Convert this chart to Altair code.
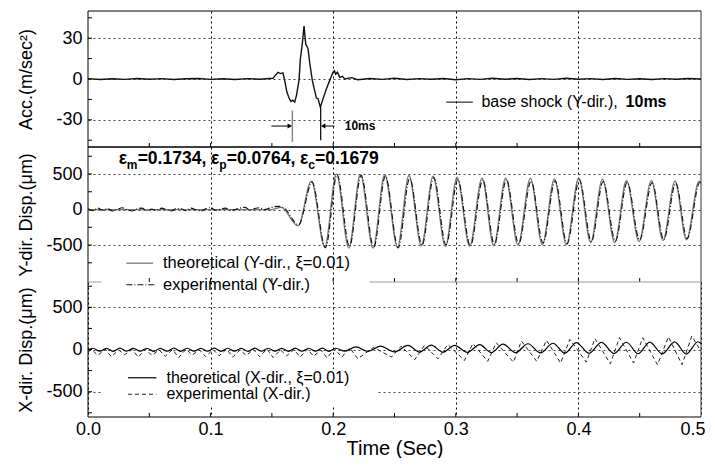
import altair as alt
import pandas as pd

# ---------------- values ----------------
# base shock acceleration (m/sec^2)
acc_t = [0.000, 0.010, 0.020, 0.030, 0.040, 0.050, 0.060, 0.070, 0.080, 0.090, 0.100, 0.110, 0.120, 0.130, 0.140, 0.148,
         0.1509, 0.1531, 0.1550, 0.1570, 0.1590, 0.1604, 0.1623, 0.1640, 0.1655, 0.1670,
         0.1686, 0.1700, 0.1721, 0.1732, 0.1749, 0.1762, 0.1776, 0.1786, 0.1795, 0.1808,
         0.1830, 0.1849, 0.1863, 0.1876, 0.1895, 0.1917, 0.1944, 0.1971, 0.1998, 0.2010,
         0.2020, 0.2035, 0.2053, 0.2075, 0.2094,
         0.2150, 0.2200, 0.2300, 0.2400, 0.2500, 0.2600, 0.2700, 0.2800, 0.2900, 0.3000,
         0.3100, 0.3200, 0.3300, 0.3400, 0.3500, 0.3600, 0.3700, 0.3800, 0.3900, 0.4000,
         0.4100, 0.4200, 0.4300, 0.4400, 0.4500, 0.4600, 0.4700, 0.4800, 0.4900, 0.5000]
acc_v = [0.3, -0.4, 0.2, -0.3, 0.4, -0.2, 0.3, -0.4, 0.2, 0.4, -0.3, 0.2, -0.4, 0.3, -0.2, 0.4,
         0.5, 3.0, 4.9, 4.0, 4.5, -1.0, -9.8, -14.0, -16.5, -15.5,
         -17.0, -12.2, -1.0, 14.6, 26.8, 39.0, 25.6, 24.0, 22.0, 12.2,
         -1.2, -8.5, -14.0, -14.4, -20.7, -14.6, -7.3, -1.2, 4.9, 6.0,
         3.6, 5.0, 1.2, 2.0, 0.0,
         1.0, -0.5, 0.4, -0.3, 0.5, -0.4, 0.3, -0.2, 0.4, -0.5,
         0.3, -0.3, 0.5, -0.2, 0.4, -0.4, 0.3, -0.3, 0.5, -0.2,
         0.3, -0.4, 0.4, -0.3, 0.2, -0.4, 0.3, -0.2, 0.4, 0.0]

# Y-direction displacement (um): theoretical
ythe_t = [0.000, 0.150, 0.1575, 0.1713, 0.1822, 0.1931, 0.2026, 0.2127, 0.2222, 0.2325,
          0.2420, 0.2524, 0.2618, 0.2719, 0.2814, 0.2915, 0.3010, 0.3113, 0.3214, 0.3309,
          0.3407, 0.3507, 0.3608, 0.3706, 0.3804, 0.3902, 0.4002, 0.4100, 0.4196, 0.4296,
          0.4392, 0.4494, 0.4595, 0.4690, 0.4788, 0.4881, 0.4984, 0.5000]
ythe_v = [0, 0, 30, -231, 400, -529, 501, -543, 493, -543,
          493, -529, 479, -510, 469, -520, 455, -520, 446, -510,
          446, -501, 441, -496, 432, -496, 446, -464, 427, -464,
          409, -450, 409, -436, 400, -426, 400, 390]

# Y-direction displacement (um): experimental
yexp_t = [0.000, 0.004, 0.008, 0.012, 0.016, 0.020, 0.024, 0.028, 0.032, 0.036,
          0.040, 0.044, 0.048, 0.052, 0.056, 0.060, 0.064, 0.068, 0.072, 0.076,
          0.080, 0.084, 0.088, 0.092, 0.096, 0.100, 0.104, 0.108, 0.112, 0.116,
          0.120, 0.124, 0.128, 0.132, 0.136, 0.140, 0.144, 0.148, 0.152, 0.156,
          0.160,
          0.1718, 0.1828, 0.1937, 0.2032, 0.2133, 0.2228, 0.2331, 0.2426, 0.2530, 0.2624,
          0.2725, 0.2820, 0.2921, 0.3016, 0.3119, 0.3220, 0.3315, 0.3413, 0.3513, 0.3614,
          0.3712, 0.3810, 0.3908, 0.4008, 0.4106, 0.4202, 0.4302, 0.4398, 0.4500, 0.4601,
          0.4696, 0.4794, 0.4887, 0.4990, 0.5000]
yexp_v = [10, -15, 20, -10, 15, -20, 5, 25, -5, -20,
          10, 20, -15, 5, -10, 20, 0, -20, 15, 10,
          -15, 20, -5, -20, 10, 25, -10, 5, 20, -15,
          0, 20, 30, -5, 15, 25, 0, 20, 40, 45,
          20,
          -215, 385, -540, 490, -520, 480, -530, 470, -540, 440,
          -500, 450, -500, 420, -510, 415, -490, 420, -480, 400,
          -470, 405, -480, 420, -450, 395, -445, 385, -430, 380,
          -420, 370, -410, 380, 370]

# X-direction displacement (um): theoretical
xthe_t = [0.000, 0.004, 0.0095, 0.015, 0.0205, 0.026, 0.0315, 0.037, 0.0425, 0.048,
          0.0535, 0.059, 0.0645, 0.070, 0.0755, 0.081, 0.0865, 0.092, 0.0975, 0.103,
          0.1085, 0.114, 0.1195, 0.125, 0.1305, 0.136, 0.1415, 0.147, 0.1525, 0.158,
          0.1635, 0.169, 0.1745, 0.180, 0.1855, 0.191, 0.1965, 0.202, 0.2095, 0.2185,
          0.2285, 0.2385, 0.2500, 0.2610, 0.2705, 0.2800, 0.2895, 0.2990, 0.3093, 0.3195,
          0.3290, 0.3385, 0.3487, 0.3589, 0.3691, 0.3793, 0.3889, 0.3984, 0.4086, 0.4188,
          0.4290, 0.4392, 0.4487, 0.4582, 0.4684, 0.4785, 0.4880, 0.4976, 0.5000]
xthe_v = [-5, 15, -20, 14, -22, 16, -20, 13, -21, 15,
          -23, 14, -20, 16, -22, 15, -21, 14, -20, 16,
          -22, 15, -20, 14, -23, 16, -21, 15, -20, 14,
          -22, 16, -20, 15, -21, 16, -22, 15, -20, 30,
          -22, 40, -28, 48, -30, 52, -32, 50, -34, 58,
          -36, 64, -38, 68, -40, 74, -44, 82, -46, 84,
          -48, 86, -50, 88, -52, 90, -54, 92, 70]

# X-direction displacement (um): experimental
xexp_t = [0.000, 0.003, 0.008, 0.014, 0.019, 0.025, 0.030, 0.036, 0.041, 0.047,
          0.052, 0.058, 0.063, 0.069, 0.074, 0.080, 0.085, 0.091, 0.096, 0.102,
          0.107, 0.113, 0.118, 0.124, 0.129, 0.135, 0.140, 0.146, 0.151, 0.157,
          0.162, 0.168, 0.173, 0.179, 0.184, 0.190, 0.195, 0.201, 0.207, 0.2135,
          0.220, 0.233, 0.2475, 0.2555, 0.2665, 0.2745, 0.2855, 0.2935, 0.307, 0.314,
          0.326, 0.333, 0.347, 0.3535, 0.366, 0.374, 0.3855, 0.393, 0.4065, 0.4135,
          0.426, 0.4335, 0.445, 0.4525, 0.4645, 0.4735, 0.4845, 0.4925, 0.5000]
xexp_v = [-30, 0, -70, 5, -85, -5, -60, 0, -90, 5,
          -70, -5, -80, 0, -95, 5, -65, -5, -85, 0,
          -75, 5, -90, -5, -70, 0, -85, 5, -95, -5,
          -75, 0, -90, 5, -80, -5, -100, 10, -90, 20,
          -110, 25, -90, 40, -120, 50, -110, 60, -130, 70,
          -140, 80, -150, 100, -140, 110, -160, 120, -150, 130,
          -170, 140, -160, 140, -180, 150, -180, 160, -20]

x_labels = [0.0, 0.1, 0.2, 0.3, 0.4, 0.5]
x_grid = [0.1, 0.2, 0.3, 0.4]
x_minor = [0.05, 0.1, 0.15, 0.2, 0.25, 0.3, 0.35, 0.4, 0.45]
acc_major = [-30, 0, 30]
acc_minor = [-45, -15, 15, 45]
disp_major = [-500, 0, 500]
disp_minor = [-750, -250, 250, 750]

# ---------------- styling / layout ----------------
FONT = "Liberation Sans"
W = 613
H1, H2, H3 = 136, 135, 135
D1, D2, D3 = [-50, 50], [-1020, 880], [-800, 800]
XS = alt.Scale(domain=[0, 0.5], nice=False, zero=False)


def yscale(d):
    return alt.Scale(domain=d, nice=False, zero=False)


def xaxis(bottom):
    if bottom:
        return alt.Axis(values=x_labels, format=".1f", grid=True, gridColor="#000", gridDash=[2, 3],
                        ticks=False, domain=False, labelFont=FONT, labelFontSize=18, labelColor="#000",
                        labelPadding=3, labelFlush=False,
                        labelAlign={"condition": {"test": "datum.value == 0.5", "value": "right"},
                                    "value": "center"},
                        labelOffset={"condition": {"test": "datum.value == 0.5", "value": 4},
                                     "value": 0},
                        title="Time (Sec)", titleFont=FONT,
                        titleFontSize=20, titleFontWeight="normal", titleColor="#000", titlePadding=0)
    return alt.Axis(values=x_grid, grid=True, gridColor="#000", gridDash=[2, 3], ticks=False,
                    domain=False, labels=False, title=None)


def yaxis(major, title):
    return alt.Axis(values=major, grid=True, gridColor="#444", gridDash=[2, 3], ticks=False,
                    domain=False, labelFont=FONT, labelFontSize=18, labelColor="#000", labelPadding=6,
                    labelExpr="datum.value + ''", title=title, titleFont=FONT, titleFontSize=18,
                    titleFontWeight="normal", titleColor="#000", titleX=-62, titleBaseline="middle")


def frame(ys, segs, major, title, bottom):
    df = pd.DataFrame(segs, columns=["x", "x2", "y", "y2", "c"])
    return alt.Chart(df).mark_rule(strokeWidth=1).encode(
        x=alt.X("x:Q", scale=XS, axis=xaxis(bottom)),
        x2="x2:Q",
        y=alt.Y("y:Q", scale=ys, axis=yaxis(major, title)),
        y2="y2:Q",
        color=alt.Color("c:N", scale=None),
    )


def inner_ticks(ys, H, ylist):
    xt = alt.Chart(pd.DataFrame({"t": x_minor})).mark_rule(color="#000").encode(
        x=alt.X("t:Q", scale=XS), y=alt.value(H), y2=alt.value(H - 4))
    yt = alt.Chart(pd.DataFrame({"v": ylist})).mark_rule(color="#000").encode(
        y=alt.Y("v:Q", scale=ys), x=alt.value(0), x2=alt.value(4))
    return [xt, yt]


def line(t, v, ys, color, dash=None, width=1.2, interp="linear"):
    kw = dict(color=color, strokeWidth=width, interpolate=interp)
    if dash:
        kw["strokeDash"] = dash
    return alt.Chart(pd.DataFrame({"t": t, "v": v})).mark_line(**kw).encode(
        x=alt.X("t:Q", scale=XS), y=alt.Y("v:Q", scale=ys))


def seg(t1, t2, v1, v2, ys, color="#000", dash=None, width=1.0):
    kw = dict(color=color, strokeWidth=width)
    if dash:
        kw["strokeDash"] = dash
    df = pd.DataFrame({"t": [t1], "t2": [t2], "v": [v1], "v2": [v2]})
    return alt.Chart(df).mark_rule(**kw).encode(
        x=alt.X("t:Q", scale=XS), x2="t2:Q", y=alt.Y("v:Q", scale=ys), y2="v2:Q")


def label(t, v, s, ys, size=16.5, weight="normal", align="left"):
    df = pd.DataFrame({"t": [t], "v": [v], "s": [s]})
    return alt.Chart(df).mark_text(align=align, baseline="middle", font=FONT, fontSize=size,
                                   fontWeight=weight, color="#000").encode(
        x=alt.X("t:Q", scale=XS), y=alt.Y("v:Q", scale=ys), text="s:N")


def head(t, v, ys, shape):
    df = pd.DataFrame({"t": [t], "v": [v]})
    return alt.Chart(df).mark_point(shape=shape, filled=True, size=26, color="#000", opacity=1).encode(
        x=alt.X("t:Q", scale=XS), y=alt.Y("v:Q", scale=ys))


def box(t1, t2, v1, v2, ys):
    df = pd.DataFrame({"t": [t1], "t2": [t2], "v": [v1], "v2": [v2]})
    return alt.Chart(df).mark_rect(color="white").encode(
        x=alt.X("t:Q", scale=XS), x2="t2:Q", y=alt.Y("v:Q", scale=ys), y2="v2:Q")


# ---------------- top panel: base shock ----------------
ys1 = yscale(D1)
top = alt.layer(
    frame(ys1, [[0, 0, -50, 50, "#000"], [0.5, 0.5, -50, 50, "#333"],
                [0, 0.5, 50, 50, "#000"], [0, 0.5, -50, -50, "#000"]], acc_major, "Acc.(m/sec²)", False),
    *inner_ticks(ys1, H1, acc_major + acc_minor),
    line(acc_t, acc_v, ys1, "#111", width=1.4),
    seg(0.2922, 0.3139, -17, -17, ys1),
    label(0.3209, -17, "base shock (Y-dir.),", ys1, size=16),
    label(0.4385, -17, "10ms", ys1, size=16, weight="bold"),
    seg(0.1667, 0.1667, -23.2, -46.3, ys1, color="#888", width=1.5),
    seg(0.1898, 0.1898, -20.7, -45.1, ys1, color="#000", width=1.2),
    seg(0.1496, 0.1640, -34.6, -34.6, ys1),
    head(0.1646, -34.6, ys1, "triangle-right"),
    seg(0.1925, 0.2012, -34.6, -34.6, ys1),
    head(0.1918, -34.6, ys1, "triangle-left"),
    label(0.2094, -34.6, "10ms", ys1, size=12, weight="bold"),
).properties(width=W, height=H1)

# ---------------- middle panel: Y-direction ----------------
ys2 = yscale(D2)
mid = alt.layer(
    frame(ys2, [[0, 0, -1020, 880, "#000"], [0.5, 0.5, -1020, 880, "#333"],
                [0, 0.5, 880, 880, "#000"]], disp_major, "Y-dir. Disp.(μm)", False),
    *inner_ticks(ys2, H2, disp_major + disp_minor),
    line(ythe_t, ythe_v, ys2, "#777", width=1.3, interp="monotone"),
    line(yexp_t, yexp_v, ys2, "#111", dash=[6, 2, 1, 2], width=1.1, interp="monotone"),
    label(0.0250, 710, "ε", ys2, size=17.5, weight="bold"),
    label(0.0317, 628, "m", ys2, size=12, weight="bold"),
    label(0.0405, 710, "=0.1734,", ys2, size=17.5, weight="bold"),
    label(0.1004, 710, "ε", ys2, size=17.5, weight="bold"),
    label(0.1071, 628, "p", ys2, size=12, weight="bold"),
    label(0.1131, 710, "=0.0764,", ys2, size=17.5, weight="bold"),
    label(0.1730, 710, "ε", ys2, size=17.5, weight="bold"),
    label(0.1797, 628, "c", ys2, size=12, weight="bold"),
    label(0.1852, 710, "=0.1679", ys2, size=17.5, weight="bold"),
    seg(0.0313, 0.0530, -755, -755, ys2, color="#777", width=1.3),
    label(0.0612, -755, "theoretical (Y-dir., ξ=0.01)", ys2),
).properties(width=W, height=H2)

# ---------------- bottom panel: X-direction ----------------
ys3 = yscale(D3)
bot = alt.layer(
    frame(ys3, [[0, 0, -800, 800, "#000"], [0.5, 0.5, -800, 800, "#333"],
                [0, 0.5, -800, -800, "#000"], [0, 0.011, 800, 800, "#999"],
                [0.2297, 0.5, 800, 800, "#999"]], disp_major, "X-dir. Disp.(μm)", True),
    box(0.011, 0.2355, -230, -660, ys3),
    *inner_ticks(ys3, H3, disp_major + disp_minor),
    line(xexp_t, xexp_v, ys3, "#222", dash=[4, 3], width=1.0),
    line(xthe_t, xthe_v, ys3, "#000", width=1.2, interp="monotone"),
    seg(0.0313, 0.0558, 767, 767, ys3, color="#111", dash=[6, 2, 1, 2], width=1.1),
    label(0.0612, 767, "experimental (Y-dir.)", ys3),
    seg(0.0326, 0.0558, -335, -335, ys3, color="#000", width=1.2),
    label(0.0640, -335, "theoretical (X-dir., ξ=0.01)", ys3, size=16),
    seg(0.0326, 0.0558, -530, -530, ys3, color="#222", dash=[4, 3], width=1.0),
    label(0.0640, -530, "experimental (X-dir.)", ys3, size=16),
).properties(width=W, height=H3)

chart = alt.vconcat(top, mid, bot, spacing=0, bounds="flush").properties(
    padding={"left": 9, "top": 2, "right": 0, "bottom": 0},
    background="white",
).configure_view(stroke=None)

chart.save("out.html", embed_options={"renderer": "svg", "actions": False})
